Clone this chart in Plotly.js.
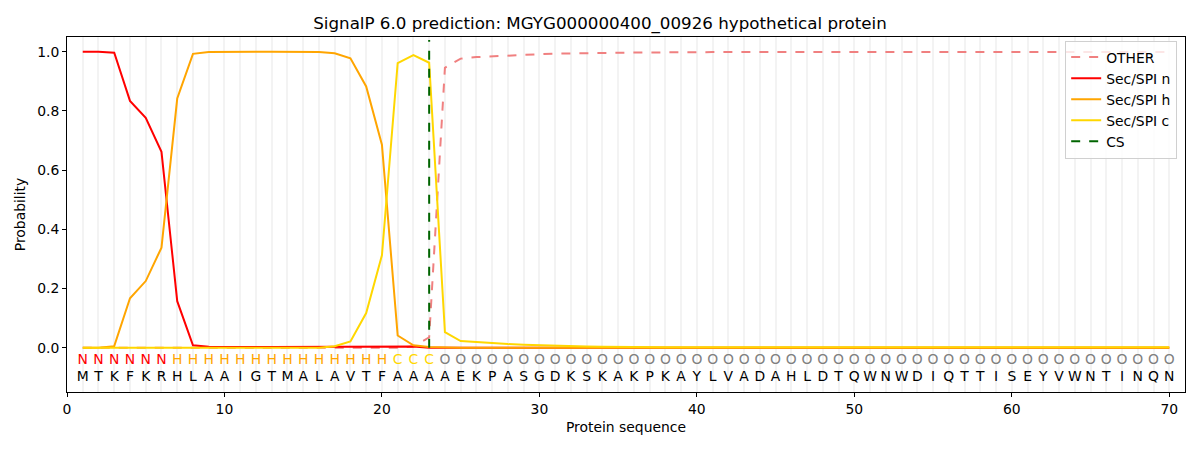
<!DOCTYPE html>
<html>
<head>
<meta charset="utf-8">
<script src="https://cdn.plot.ly/plotly-3.0.1.min.js"></script>
<style>
  body { margin: 0; background: #fff; }
  #plot { width: 1200px; height: 450px; }
</style>
</head>
<body>
<div id="plot"></div>
<script>
// Sequence and predicted region per residue
var sequence = "MTKFKRHLAAIGTMALAVTFAAAAEKPASGDKSKAKPKAYLVADAHLDTQWNWDIQTTISEYVWNTINQN".split("");
var regions  = "NNNNNNHHHHHHHHHHHHHHCCCOOOOOOOOOOOOOOOOOOOOOOOOOOOOOOOOOOOOOOOOOOOOOOO".split("");

// Probabilities (positions 1..70)
var prob_other = [0,0,0,0,0,0,0,0,0,0, 0,0,0,0,0,0,0,0,0,0,
                  0,0.004,0.035,0.946,0.977,0.982,0.985,0.988,0.990,0.992,
                  0.994,0.995,0.996,0.997,0.998,0.998,0.998,0.998,0.999,0.999,
                  0.999,0.999,0.999,0.999,0.999,0.999,0.999,0.999,0.999,0.999,
                  0.999,0.999,0.999,0.999,0.999,0.999,0.999,0.999,0.999,0.999,
                  0.999,0.999,0.999,0.999,0.999,0.999,0.999,0.999,0.999,0.999];
var prob_n = [1.0,1.0,0.997,0.834,0.777,0.662,0.157,0.008,0.003,0.002,
              0.002,0.002,0.002,0.002,0.002,0.002,0.002,0.002,0.002,0.002,
              0.002,0.004,0,0,0,0,0,0,0,0,
              0,0,0,0,0,0,0,0,0,0, 0,0,0,0,0,0,0,0,0,0,
              0,0,0,0,0,0,0,0,0,0, 0,0,0,0,0,0,0,0,0,0];
var prob_h = [0,0,0.005,0.167,0.225,0.338,0.842,0.993,0.999,1.0,
              1.0,1.0,1.0,1.0,1.0,0.999,0.995,0.978,0.883,0.686,
              0.041,0.008,0.002,0,0,0,0,0,0,0,
              0,0,0,0,0,0,0,0,0,0, 0,0,0,0,0,0,0,0,0,0,
              0,0,0,0,0,0,0,0,0,0, 0,0,0,0,0,0,0,0,0,0];
var prob_c = [0,0,0,0,0,0,0,0,0,0,
              0,0,0,0,0,0,0.005,0.021,0.117,0.312,
              0.962,0.989,0.963,0.052,0.022,0.018,0.015,0.012,0.010,0.008,
              0.006,0.005,0.004,0.003,0.002,0.002,0.001,0.001,0.001,0.001,
              0.001,0.001,0.001,0.001,0.001,0.001,0.001,0.001,0.001,0.001,
              0.001,0.001,0.001,0.001,0.001,0.001,0.001,0.001,0.001,0.001,
              0.001,0.001,0.001,0.001,0.001,0.001,0.001,0.001,0.001,0.001];
var cs_pos = 23;

// Position 1..70
var pos = sequence.map(function(s, i){ return i + 1; });

// Colour of the region letters
var region_color = {N: "#ff0000", H: "#ffa500", C: "#ffd700", O: "#808080"};

function fn_Line(y, name, color, dash){
    return {
        x: pos, y: y, name: name, type: "scatter", mode: "lines",
        line: {color: color, width: 2, dash: dash || "solid"},
        hoverinfo: "skip"
    };
}

var data = [
    fn_Line(prob_other, "OTHER", "#f08080", "dash"),
    fn_Line(prob_n, "Sec/SPI n", "#ff0000"),
    fn_Line(prob_h, "Sec/SPI h", "#ffa500"),
    fn_Line(prob_c, "Sec/SPI c", "#ffd700"),
    {
        x: [cs_pos, cs_pos], y: [0, 1.04], name: "CS", type: "scatter", mode: "lines",
        line: {color: "#006400", width: 2, dash: "dash"}, hoverinfo: "skip"
    },
    {
        x: pos, y: pos.map(function(){ return -0.045; }), type: "scatter", mode: "text",
        text: regions,
        textfont: {family: "DejaVu Sans", size: 13.9, color: regions.map(function(r){ return region_color[r]; })},
        showlegend: false, hoverinfo: "skip"
    },
    {
        x: pos, y: pos.map(function(){ return -0.1; }), type: "scatter", mode: "text",
        text: sequence,
        textfont: {family: "DejaVu Sans", size: 13.9, color: "#000000"},
        showlegend: false, hoverinfo: "skip"
    }
];

var layout = {
    width: 1200, height: 450,
    margin: {l: 67, r: 15, t: 37, b: 58},
    paper_bgcolor: "#ffffff", plot_bgcolor: "#ffffff",
    font: {family: "DejaVu Sans", size: 13.9, color: "#000000"},
    title: {text: "SignalP 6.0 prediction: MGYG000000400_00926 hypothetical protein",
            font: {size: 16.7}, x: 0.5, xanchor: "center", y: 0.949, yanchor: "middle"},
    showlegend: true,
    legend: {x: 0.993, y: 0.99, xanchor: "right", yanchor: "top",
             bgcolor: "rgba(255,255,255,0.8)", bordercolor: "#d0d0d0", borderwidth: 1,
             font: {size: 13.9}, tracegroupgap: 2},
    xaxis: {
        range: [0, 71], dtick: 10, tick0: 0,
        showline: true, mirror: true, linecolor: "#000", linewidth: 1,
        ticks: "outside", ticklen: 4, tickcolor: "#000",
        showgrid: true, gridcolor: "#f3f3f3", gridwidth: 2, zeroline: false,
        minor: {dtick: 1, tick0: 0, showgrid: true, gridcolor: "#f3f3f3", gridwidth: 2, ticks: ""},
        title: {text: "Protein sequence", font: {size: 13.9}, standoff: 6}
    },
    yaxis: {
        range: [-0.15, 1.05], dtick: 0.2, tick0: 0, tickformat: ".1f",
        showline: true, mirror: true, linecolor: "#000", linewidth: 1,
        ticks: "outside", ticklen: 4, tickcolor: "#000",
        showgrid: false, zeroline: false,
        title: {text: "Probability", font: {size: 13.9}, standoff: 8}
    }
};

Plotly.newPlot("plot", data, layout, {staticPlot: true, displayModeBar: false});
</script>
</body>
</html>
